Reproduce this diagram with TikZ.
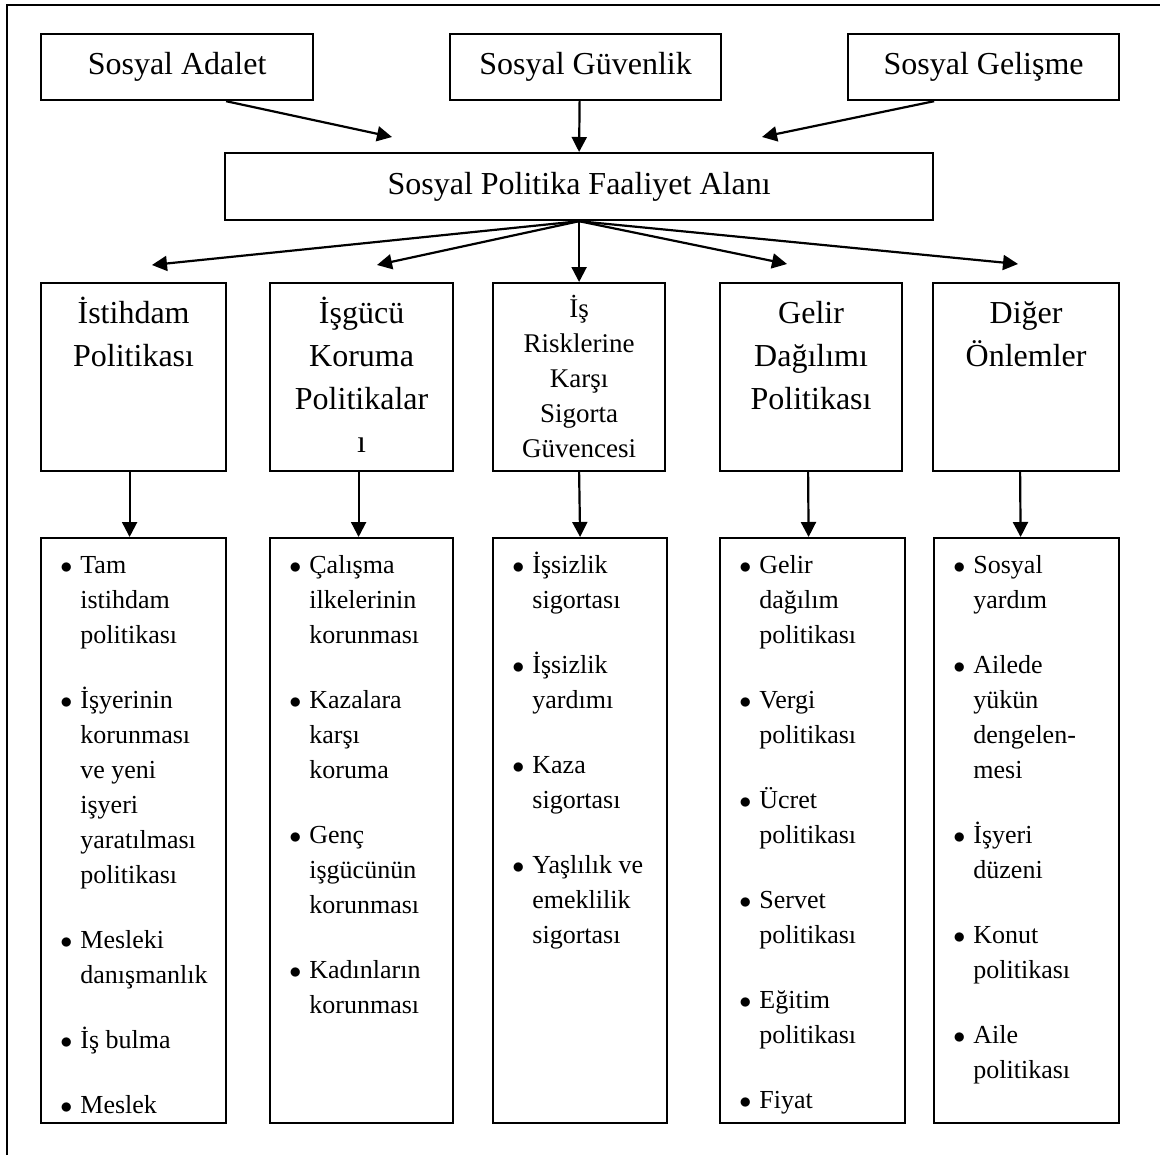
\documentclass[tikz,border=0pt]{standalone}
\usepackage{fontspec}
\setmainfont{Liberation Serif}
\usetikzlibrary{arrows.meta}

\begin{document}
\begin{tikzpicture}[x=0.5pt, y=-0.5pt,
  kutu/.style={draw, line width=1.1pt, inner sep=0pt, anchor=north west},
  ust/.style={kutu, minimum height=33pt, font=\fontsize{16}{19}\selectfont},
  baslik/.style={kutu, minimum height=94pt},
  liste/.style={kutu, minimum height=292.5pt},
  yazi/.style={inner sep=0pt, anchor=base, font=\fontsize{16}{21.5}\selectfont},
  madde/.style={inner sep=0pt, anchor=base west, font=\fontsize{13}{17.5}\selectfont},
  ok/.style={line width=1.1pt, -{Triangle[length=7.5pt,width=7.5pt]}}]
\useasboundingbox (0,0) rectangle (1160,1155);
\draw[line width=1.3pt] (7,1155) -- (7,5) -- (1160,5);

% ust kutular
\node[ust, minimum width=136pt] (adalet) at (40,33) {Sosyal Adalet};
\node[ust, minimum width=135.5pt] (guvenlik) at (449,33) {Sosyal Güvenlik};
\node[ust, minimum width=135.5pt] (gelisme) at (847,33) {Sosyal Gelişme};
\node[ust, minimum width=354pt, minimum height=33.5pt] (alan) at (224,152) {Sosyal Politika Faaliyet Alanı};

\coordinate (a1) at (392,137);
\coordinate (a3) at (762,137);
\draw[ok] ([xshift=24.5pt]adalet.south) -- (a1);
\draw[ok] ([xshift=-3pt]guvenlik.south) -- (alan.north);
\draw[ok] ([xshift=-24.75pt]gelisme.south) -- (a3);

% orta kutular
\node[baslik, minimum width=92.5pt] (istihdam) at (40,282) {};
\node[baslik, minimum width=91.5pt] (isgucu) at (269,282) {};
\node[baslik, minimum width=86pt] (riskler) at (492,282) {};
\node[baslik, minimum width=91pt] (gelir) at (719,282) {};
\node[baslik, minimum width=93pt] (diger) at (932,282) {};

\node[yazi] (istihdamT) at ([yshift=-20.5pt]istihdam.north)
  {\begin{tabular}[t]{@{}c@{}}İstihdam\\Politikası\end{tabular}};
\node[yazi] (isgucuT) at ([yshift=-20.5pt]isgucu.north)
  {\begin{tabular}[t]{@{}c@{}}İşgücü\\Koruma\\Politikalar\\ı\end{tabular}};
\node[yazi, font=\fontsize{13.5}{17.5}\selectfont] (risklerT) at ([yshift=-17.5pt]riskler.north)
  {\begin{tabular}[t]{@{}c@{}}İş\\Risklerine\\Karşı\\Sigorta\\Güvencesi\end{tabular}};
\node[yazi] (gelirT) at ([yshift=-20.5pt]gelir.north)
  {\begin{tabular}[t]{@{}c@{}}Gelir\\Dağılımı\\Politikası\end{tabular}};
\node[yazi] (digerT) at ([yshift=-20.5pt]diger.north)
  {\begin{tabular}[t]{@{}c@{}}Diğer\\Önlemler\end{tabular}};

\coordinate (u1) at (152,265);
\coordinate (u2) at (377,265);
\coordinate (u4) at (787,264);
\coordinate (u5) at (1018,264);
\draw[ok] (alan.south) -- (u1);
\draw[ok] (alan.south) -- (u2);
\draw[ok] (alan.south) -- (riskler.north);
\draw[ok] (alan.south) -- (u4);
\draw[ok] (alan.south) -- (u5);

% alt kutular
\node[liste, minimum width=92.5pt] (istihdamL) at (40,537) {};
\node[liste, minimum width=91.5pt] (isgucuL) at (269,537) {};
\node[liste, minimum width=87pt] (risklerL) at (492,537) {};
\node[liste, minimum width=92.5pt] (gelirL) at (719,537) {};
\node[liste, minimum width=92.5pt] (digerL) at (933,537) {};

\draw[ok] ([xshift=-2pt]istihdam.south) -- ([xshift=-2pt]istihdamL.north);
\draw[ok] ([xshift=-1.5pt]isgucu.south) -- ([xshift=-1.5pt]isgucuL.north);
\draw[ok] (riskler.south) -- (risklerL.north);
\draw[ok] ([xshift=-1.5pt]gelir.south) -- ([xshift=-2pt]gelirL.north);
\draw[ok] ([xshift=-3pt]diger.south) -- ([xshift=-3pt]digerL.north);

\node[madde] (istihdamM) at ([xshift=10pt,yshift=-18pt]istihdamL.north west)
  {\begin{tabular}[t]{@{}p{10pt}@{}l@{}}
  $\bullet$ & Tam\\ & istihdam\\ & politikası\\[15pt]
  $\bullet$ & İşyerinin\\ & korunması\\ & ve yeni\\ & işyeri\\ & yaratılması\\ & politikası\\[15pt]
  $\bullet$ & Mesleki\\ & danışmanlık\\[15pt]
  $\bullet$ & İş bulma\\[15pt]
  $\bullet$ & Meslek
  \end{tabular}};
\node[madde] (isgucuM) at ([xshift=10pt,yshift=-18pt]isgucuL.north west)
  {\begin{tabular}[t]{@{}p{10pt}@{}l@{}}
  $\bullet$ & Çalışma\\ & ilkelerinin\\ & korunması\\[15pt]
  $\bullet$ & Kazalara\\ & karşı\\ & koruma\\[15pt]
  $\bullet$ & Genç\\ & işgücünün\\ & korunması\\[15pt]
  $\bullet$ & Kadınların\\ & korunması
  \end{tabular}};
\node[madde] (risklerM) at ([xshift=10pt,yshift=-18pt]risklerL.north west)
  {\begin{tabular}[t]{@{}p{10pt}@{}l@{}}
  $\bullet$ & İşsizlik\\ & sigortası\\[15pt]
  $\bullet$ & İşsizlik\\ & yardımı\\[15pt]
  $\bullet$ & Kaza\\ & sigortası\\[15pt]
  $\bullet$ & Yaşlılık ve\\ & emeklilik\\ & sigortası
  \end{tabular}};
\node[madde] (gelirM) at ([xshift=10pt,yshift=-18pt]gelirL.north west)
  {\begin{tabular}[t]{@{}p{10pt}@{}l@{}}
  $\bullet$ & Gelir\\ & dağılım\\ & politikası\\[15pt]
  $\bullet$ & Vergi\\ & politikası\\[15pt]
  $\bullet$ & Ücret\\ & politikası\\[15pt]
  $\bullet$ & Servet\\ & politikası\\[15pt]
  $\bullet$ & Eğitim\\ & politikası\\[15pt]
  $\bullet$ & Fiyat
  \end{tabular}};
\node[madde] (digerM) at ([xshift=10pt,yshift=-18pt]digerL.north west)
  {\begin{tabular}[t]{@{}p{10pt}@{}l@{}}
  $\bullet$ & Sosyal\\ & yardım\\[15pt]
  $\bullet$ & Ailede\\ & yükün\\ & dengelen-\\ & mesi\\[15pt]
  $\bullet$ & İşyeri\\ & düzeni\\[15pt]
  $\bullet$ & Konut\\ & politikası\\[15pt]
  $\bullet$ & Aile\\ & politikası
  \end{tabular}};
\end{tikzpicture}
\end{document}
